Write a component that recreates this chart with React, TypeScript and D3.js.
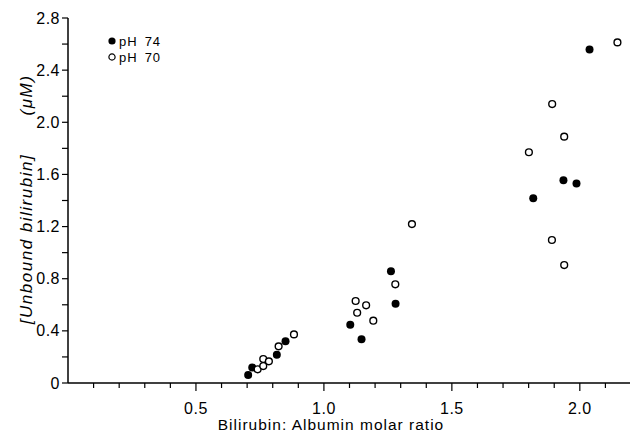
import React from 'react';
import * as d3 from 'd3';

// pH 7.4 (filled) and pH 7.0 (open) points: [ratio, unbound bilirubin uM]
const ph74X = [0.704, 0.72, 0.816, 0.85, 1.103, 1.147, 1.262, 1.28, 1.818, 1.936, 1.987, 2.038];
const ph74Y = [0.061, 0.118, 0.217, 0.32, 0.447, 0.335, 0.857, 0.608, 1.417, 1.555, 1.531, 2.559];
const ph70X = [0.741, 0.763, 0.763, 0.785, 0.823, 0.883, 1.124, 1.13, 1.165, 1.193, 1.279, 1.344, 1.801, 1.892, 1.939, 1.891, 1.939, 2.147];
const ph70Y = [0.105, 0.184, 0.13, 0.166, 0.281, 0.373, 0.629, 0.539, 0.596, 0.478, 0.757, 1.219, 1.77, 2.14, 1.89, 1.097, 0.905, 2.613];

const xMajor = [0.5, 1.0, 1.5, 2.0];
const xMajorLabels = ['0.5', '1.0', '1.5', '2.0'];
const yMajor = [0, 0.4, 0.8, 1.2, 1.6, 2.0, 2.4, 2.8];
const yMajorLabels = ['0', '0.4', '0.8', '1.2', '1.6', '2.0', '2.4', '2.8'];
const legendLabels = ['74', '70'];

const W = 630;
const H = 434;
const font = 'Liberation Sans, Arial, sans-serif';

export default function App() {
  const x = d3.scaleLinear().domain([0, 2.2]).range([68, 631]);
  const y = d3.scaleLinear().domain([0, 2.8]).range([383, 18]);

  const xMinor = d3.range(1, 23).map(i => i / 10);
  const yMinor = d3.range(0, 15).map(i => i / 5);

  return (
    <svg width={W} height={H} style={{ position: 'absolute', left: 0, top: 0, background: '#fff' }}>
      {/* axes */}
      <line x1={x(0)} x2={x(2.2)} y1={y(0)} y2={y(0)} stroke="#000" strokeWidth={1.5} />
      <line x1={x(0)} x2={x(0)} y1={y(0)} y2={y(2.8)} stroke="#000" strokeWidth={1.5} />

      {xMinor.map(v => {
        const major = Math.abs(v * 2 - Math.round(v * 2)) < 1e-6;
        return (
          <line key={'xt' + v} x1={x(v)} x2={x(v)} y1={y(0)} y2={y(0) + (major ? 8 : 5)} stroke="#000" strokeWidth={1.2} />
        );
      })}
      {yMinor.map(v => (
        <line key={'yt' + v} x1={x(0) - 6} x2={x(0)} y1={y(v)} y2={y(v)} stroke="#000" strokeWidth={1.2} />
      ))}

      {xMajor.map((v, i) => (
        <text key={'xl' + v} x={x(v)} y={y(0) + 31} textAnchor="middle" fontFamily={font} fontSize={16} letterSpacing={0.5}>
          {xMajorLabels[i]}
        </text>
      ))}
      {yMajor.map((v, i) => (
        <text key={'yl' + v} x={x(0) - 8} y={y(v)} dy="0.35em" textAnchor="end" fontFamily={font} fontSize={16} letterSpacing={0.5}>
          {yMajorLabels[i]}
        </text>
      ))}

      <text x={331} y={430} textAnchor="middle" fontFamily={font} fontSize={15.5} letterSpacing={1}>
        Bilirubin: Albumin molar ratio
      </text>

      <text transform="translate(32,239) rotate(-90)" textAnchor="middle" fontFamily={font} fontSize={17} fontStyle="italic" letterSpacing={1.5}>
        [Unbound bilirubin]
      </text>
      <text transform="translate(32,95) rotate(-90)" textAnchor="middle" fontFamily={font} fontSize={17} fontStyle="italic" letterSpacing={1.5}>
        (μM)
      </text>

      {/* data */}
      {ph74X.map((v, i) => (
        <circle key={'f' + i} cx={x(v)} cy={y(ph74Y[i])} r={4} fill="#000" />
      ))}
      {ph70X.map((v, i) => (
        <circle key={'o' + i} cx={x(v)} cy={y(ph70Y[i])} r={3.4} fill="#fff" stroke="#000" strokeWidth={1.4} />
      ))}

      {/* legend */}
      {legendLabels.map((lab, i) => (
        <g key={'lg' + i} transform={`translate(112,${41 + i * 16})`}>
          {i === 0
            ? <circle r={3.6} fill="#000" />
            : <circle r={3.1} fill="#fff" stroke="#000" strokeWidth={1.2} />}
          <text x={7} dy="0.35em" fill="#000" fontFamily={font} fontSize={13} letterSpacing={1}>
            pH<tspan dx={7}>{lab}</tspan>
          </text>
        </g>
      ))}
    </svg>
  );
}
